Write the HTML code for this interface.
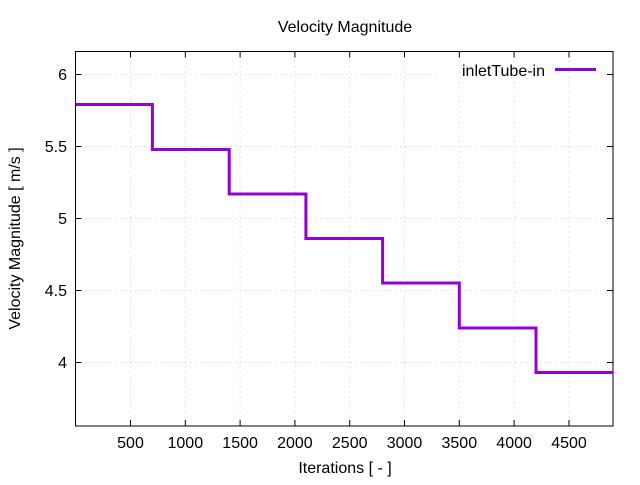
<!DOCTYPE html>
<html><head><style>body{margin:0;background:#fff}</style></head><body>
<svg width="640" height="480" xmlns="http://www.w3.org/2000/svg" font-family="Liberation Sans, sans-serif" font-size="16">
<rect width="640" height="480" fill="#fff"/>
<g stroke="#c8c8c8" stroke-dasharray="1,4" stroke-width="1">
<line x1="130.5" y1="51.5" x2="130.5" y2="426"/><line x1="185.3" y1="51.5" x2="185.3" y2="426"/>
<line x1="240.1" y1="51.5" x2="240.1" y2="426"/><line x1="294.9" y1="51.5" x2="294.9" y2="426"/>
<line x1="349.7" y1="51.5" x2="349.7" y2="426"/><line x1="404.5" y1="51.5" x2="404.5" y2="426"/>
<line x1="459.3" y1="51.5" x2="459.3" y2="426"/><line x1="514.1" y1="51.5" x2="514.1" y2="426"/>
<line x1="569" y1="51.5" x2="569" y2="426"/>
<line x1="75.5" y1="74.5" x2="440" y2="74.5"/><line x1="75.5" y1="146.5" x2="613" y2="146.5"/>
<line x1="75.5" y1="218.5" x2="613" y2="218.5"/><line x1="75.5" y1="290.5" x2="613" y2="290.5"/>
<line x1="75.5" y1="362.5" x2="613" y2="362.5"/>
</g>
<rect x="75.5" y="51.5" width="537.5" height="374.5" fill="none" stroke="#000"/>
<g stroke="#000">
<line x1="130.5" y1="426" x2="130.5" y2="420"/><line x1="130.5" y1="51.5" x2="130.5" y2="57.5"/>
<line x1="185.3" y1="426" x2="185.3" y2="420"/><line x1="185.3" y1="51.5" x2="185.3" y2="57.5"/>
<line x1="240.1" y1="426" x2="240.1" y2="420"/><line x1="240.1" y1="51.5" x2="240.1" y2="57.5"/>
<line x1="294.9" y1="426" x2="294.9" y2="420"/><line x1="294.9" y1="51.5" x2="294.9" y2="57.5"/>
<line x1="349.7" y1="426" x2="349.7" y2="420"/><line x1="349.7" y1="51.5" x2="349.7" y2="57.5"/>
<line x1="404.5" y1="426" x2="404.5" y2="420"/><line x1="404.5" y1="51.5" x2="404.5" y2="57.5"/>
<line x1="459.3" y1="426" x2="459.3" y2="420"/><line x1="459.3" y1="51.5" x2="459.3" y2="57.5"/>
<line x1="514.1" y1="426" x2="514.1" y2="420"/><line x1="514.1" y1="51.5" x2="514.1" y2="57.5"/>
<line x1="569" y1="426" x2="569" y2="420"/><line x1="569" y1="51.5" x2="569" y2="57.5"/>
<line x1="75.5" y1="74.5" x2="81.5" y2="74.5"/><line x1="613" y1="74.5" x2="607" y2="74.5"/>
<line x1="75.5" y1="146.5" x2="81.5" y2="146.5"/><line x1="613" y1="146.5" x2="607" y2="146.5"/>
<line x1="75.5" y1="218.5" x2="81.5" y2="218.5"/><line x1="613" y1="218.5" x2="607" y2="218.5"/>
<line x1="75.5" y1="290.5" x2="81.5" y2="290.5"/><line x1="613" y1="290.5" x2="607" y2="290.5"/>
<line x1="75.5" y1="362.5" x2="81.5" y2="362.5"/><line x1="613" y1="362.5" x2="607" y2="362.5"/>
</g>
<g text-anchor="end">
<text x="67" y="80">6</text><text x="67" y="152">5.5</text><text x="67" y="224">5</text>
<text x="67" y="296">4.5</text><text x="67" y="368">4</text>
</g>
<g text-anchor="middle">
<text x="130.5" y="448">500</text><text x="185.3" y="448">1000</text><text x="240.1" y="448">1500</text>
<text x="294.9" y="448">2000</text><text x="349.7" y="448">2500</text><text x="404.5" y="448">3000</text>
<text x="459.3" y="448">3500</text><text x="514.1" y="448">4000</text><text x="569" y="448">4500</text>
<text x="345" y="473">Iterations [ - ]</text>
<text x="345" y="32">Velocity Magnitude</text>
<text transform="translate(20,238.5) rotate(-90)">Velocity Magnitude [ m/s ]</text>
</g>
<text x="545" y="76" text-anchor="end">inletTube-in</text>
<line x1="555" y1="69.5" x2="596" y2="69.5" stroke="#9400d3" stroke-width="3"/>
<polyline fill="none" stroke="#9400d3" stroke-width="3" points="75.5,104.5 152.4,104.5 152.4,149.5 229.2,149.5 229.2,194 305.9,194 305.9,238.5 382.6,238.5 382.6,283 459.3,283 459.3,328 536,328 536,372.5 613,372.5"/>
</svg>
</body></html>
